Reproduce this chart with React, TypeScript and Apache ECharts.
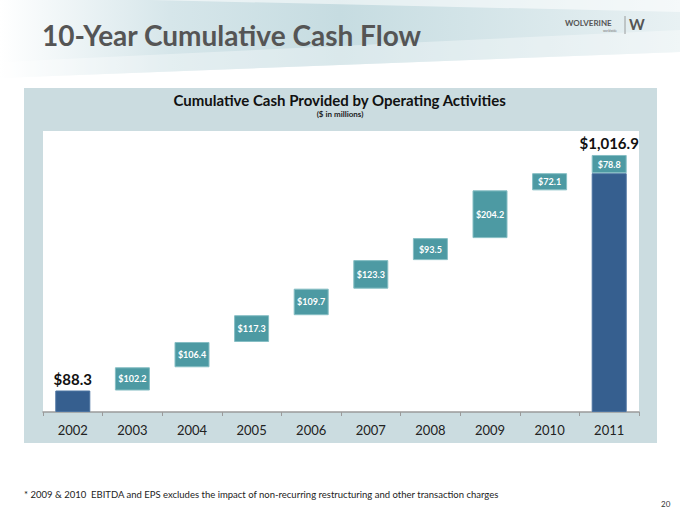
import React, { useEffect, useRef } from "react";
import * as echarts from "echarts";

const years = ["2002", "2003", "2004", "2005", "2006", "2007", "2008", "2009", "2010", "2011"];
// floating box bottoms ($M)
const boxBase = [0, 85, 177, 277, 383, 488, 601, 688, 877, 0];
// solid (dark blue) bars
const solidValue: (number | string)[] = [85, "-", "-", "-", "-", "-", "-", "-", "-", 945];
// box heights as drawn (teal), '-' where no box
const boxHeight: (number | string)[] = ["-", 92, 100, 106, 105, 113, 87, 189, 68, 72];
// labels written in the boxes
const boxLabels = ["", "$102.2", "$106.4", "$117.3", "$109.7", "$123.3", "$93.5", "$204.2", "$72.1", "$78.8"];
const totalLabels = ["$88.3", "", "", "", "", "", "", "", "", "$1,016.9"];

const FONT = "Lato, 'Open Sans', sans-serif";
const BLUE = "#365f8f";
const TEAL = "#4d9aa3";

export default function App() {
  const ref = useRef<HTMLDivElement>(null);
  useEffect(() => {
    if (!ref.current) return;
    const chart = echarts.init(ref.current, null, { renderer: "svg" });
    const totalsData = totalLabels.map((t) => (t ? 0 : "-"));
    chart.setOption({
      animation: false,
      backgroundColor: "#ffffff",
      graphic: [
        {
          type: "polygon",
          z: -10,
          shape: { points: [[0, 0], [680, 0], [680, 52], [0, 78]] },
          style: {
            fill: {
              type: "linear", x: 0, y: 0, x2: 1, y2: 0,
              colorStops: [
                { offset: 0, color: "#ffffff" },
                { offset: 0.25, color: "#d6e6ea" },
                { offset: 0.5, color: "#c6dce1" },
                { offset: 1, color: "#e8f1f3" },
              ],
            },
          },
        },
        {
          type: "polygon",
          z: -9,
          shape: { points: [[150, 0], [680, 0], [680, 12]] },
          style: { fill: "rgba(255,255,255,0.55)" },
        },
        {
          type: "polygon",
          z: -9,
          shape: { points: [[0, 62], [680, 30], [680, 52], [0, 78]] },
          style: { fill: "rgba(255,255,255,0.35)" },
        },
        {
          type: "text",
          left: 42,
          top: 21,
          style: { text: "10-Year Cumulative Cash Flow", fontSize: 28, fontWeight: "bold", fill: "#555555", fontFamily: FONT },
        },
        {
          type: "text",
          left: 565,
          top: 19,
          style: { text: "WOLVERINE", fontSize: 8, fontWeight: "bold", fill: "#555", fontFamily: FONT },
        },
        {
          type: "text",
          left: 603,
          top: 29,
          style: { text: "worldwide", fontSize: 3, fill: "#777", fontFamily: FONT },
        },
        { type: "line", shape: { x1: 625, y1: 16, x2: 625, y2: 34 }, style: { stroke: "#888", lineWidth: 0.8 } },
        {
          type: "text",
          left: 629,
          top: 16,
          style: { text: "W", fontSize: 15, fontWeight: "bold", fill: "#555", fontFamily: FONT },
        },
        {
          type: "rect",
          z: -8,
          shape: { x: 24, y: 88, width: 633, height: 355 },
          style: { fill: "#cbdce0" },
        },
        {
          type: "rect",
          z: -7,
          shape: { x: 43, y: 131, width: 596, height: 281 },
          style: { fill: "#ffffff" },
        },
        {
          type: "text",
          left: "center",
          top: 92,
          style: { text: "Cumulative Cash Provided by Operating Activities", fontSize: 15, fontWeight: "bold", fill: "#111", fontFamily: FONT },
        },
        {
          type: "text",
          left: "center",
          top: 110,
          style: { text: "($ in millions)", fontSize: 8, fontWeight: "bold", fill: "#222", fontFamily: FONT },
        },
        {
          type: "text",
          left: 24,
          top: 489,
          style: {
            text: "* 2009 & 2010  EBITDA and EPS excludes the impact of non-recurring restructuring and other transaction charges",
            fontSize: 9.5,
            fill: "#222",
            fontFamily: FONT,
          },
        },
        {
          type: "text",
          left: 661,
          top: 500,
          style: { text: "20", fontSize: 8, fill: "#333", fontFamily: FONT },
        },
      ],
      grid: { left: 43, right: 41, top: 134, bottom: 98 },
      xAxis: {
        type: "category",
        data: years,
        axisLine: { show: true, lineStyle: { color: "#9a9a9a", width: 1.5 } },
        axisTick: { show: true, length: 4, lineStyle: { color: "#9a9a9a" } },
        axisLabel: { color: "#222", fontSize: 13, fontFamily: FONT, margin: 11 },
      },
      yAxis: {
        type: "value",
        min: 0,
        max: 1100,
        show: false,
        splitLine: { show: false },
      },
      series: [
        {
          type: "bar",
          stack: "w",
          barWidth: 35,
          data: boxBase,
          itemStyle: { color: "transparent" },
          silent: true,
        },
        {
          type: "bar",
          stack: "w",
          barWidth: 35,
          data: solidValue,
          itemStyle: { color: BLUE, borderColor: "#4a72a0", borderWidth: 1 },
        },
        {
          type: "bar",
          stack: "w",
          barWidth: 35,
          data: boxHeight,
          itemStyle: { color: TEAL, borderColor: "#86bec4", borderWidth: 1 },
          label: {
            show: true,
            position: "inside",
            formatter: (p: any) => boxLabels[p.dataIndex],
            color: "#ffffff",
            fontWeight: "bold",
            fontSize: 9,
            fontFamily: FONT,
          },
        },
        {
          type: "bar",
          stack: "w",
          barWidth: 35,
          data: totalsData,
          itemStyle: { color: "transparent" },
          label: {
            show: true,
            position: "top",
            distance: 4,
            formatter: (p: any) => totalLabels[p.dataIndex],
            color: "#111",
            fontWeight: "bold",
            fontSize: 15,
            fontFamily: FONT,
          },
        },
      ],
    });
    return () => chart.dispose();
  }, []);
  return <div ref={ref} style={{ position: "fixed", left: 0, top: 0, width: 680, height: 510 }} />;
}
